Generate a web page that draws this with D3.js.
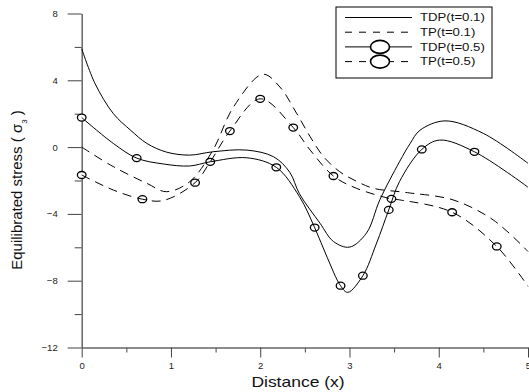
<!DOCTYPE html>
<html>
<head>
<meta charset="utf-8">
<script src="https://cdn.jsdelivr.net/npm/d3@7"></script>
<style>
  html, body { margin: 0; padding: 0; background: #fff; }
  svg { display: block; font-family: "Liberation Sans", Arial, sans-serif; }
</style>
</head>
<body>
<svg id="chart" width="529" height="392"></svg>
<script>
// values
var tdp1X = [0, 0.15, 0.354, 0.55, 0.73, 0.95, 1.21, 1.47, 1.85, 2.15, 2.33, 2.44, 2.67, 2.82, 3.0, 3.19, 3.34, 3.56, 3.68, 3.79, 4.07, 4.5, 5.0];
var tdp1Y = [5.89, 3.8, 2.01, 1.0, 0.22, -0.3, -0.48, -0.28, -0.18, -0.58, -1.5, -2.8, -4.56, -5.65, -5.99, -5.15, -3.16, -0.88, 0.22, 1.01, 1.57, 0.82, -0.97];

var tdp5X = [0, 0.354, 0.616, 0.914, 1.21, 1.44, 1.85, 2.18, 2.44, 2.61, 2.75, 2.9, 2.98, 3.15, 3.3, 3.44, 3.56, 3.81, 4.01, 4.4, 5.0];
var tdp5Y = [1.77, 0.22, -0.66, -1.01, -1.13, -0.88, -0.64, -1.21, -2.97, -4.82, -6.6, -8.3, -8.7, -7.7, -5.8, -3.76, -2.07, -0.14, 0.42, -0.28, -2.4];
var tdp5MarkX = [0, 0.616, 1.44, 2.18, 2.61, 2.9, 3.15, 3.44, 3.81, 4.4];
var tdp5MarkY = [1.77, -0.66, -0.88, -1.21, -4.82, -8.3, -7.7, -3.76, -0.14, -0.28];

var tp1X = [0, 0.354, 0.73, 0.95, 1.21, 1.47, 1.70, 2.03, 2.22, 2.41, 2.56, 2.71, 2.89, 3.08, 3.27, 3.56, 3.68, 4.16, 4.61, 5.0];
var tp1Y = [0, -1.17, -2.17, -2.67, -2.07, -0.18, 2.4, 4.36, 3.6, 2.0, 0.62, -0.58, -1.47, -2.05, -2.47, -2.67, -2.75, -3.16, -4.36, -6.25];

var tp5X = [0, 0.354, 0.68, 0.914, 1.27, 1.44, 1.66, 2.0, 2.37, 2.56, 2.82, 3.08, 3.47, 3.56, 4.15, 4.65, 5.0];
var tp5Y = [-1.67, -2.57, -3.12, -3.2, -2.13, -0.88, 0.96, 2.89, 1.17, -0.18, -1.73, -2.47, -3.1, -3.16, -3.9, -5.95, -8.34];
var tp5MarkX = [0, 0.68, 1.27, 1.66, 2.0, 2.37, 2.82, 3.47, 4.15, 4.65];
var tp5MarkY = [-1.67, -3.12, -2.13, 0.96, 2.89, 1.17, -1.73, -3.1, -3.9, -5.95];

var xTicks = [0, 1, 2, 3, 4, 5];
var xMinorTicks = [0.5, 1.5, 2.5, 3.5, 4.5];
var yTicks = [-12, -8, -4, 0, 4, 8];
var yMinorTicks = [-10, -6, -2, 2, 6];
var legendNames = ["TDP(t=0.1)", "TP(t=0.1)", "TDP(t=0.5)", "TP(t=0.5)"];

var svg = d3.select("#chart");
var x = d3.scaleLinear().domain([0, 5]).range([81.7, 528]);
var y = d3.scaleLinear().domain([-12, 8]).range([347.5, 13.5]);

function pts(xs, ys) {
  return xs.map(function(v, i) { return [v, ys[i]]; });
}

var line = d3.line()
  .x(function(d) { return x(d[0]); })
  .y(function(d) { return y(d[1]); })
  .curve(d3.curveCatmullRom.alpha(0.5));

// axes
function styleAxis(g) {
  g.select(".domain").attr("stroke", "#666").attr("stroke-width", 1.5);
  g.selectAll(".tick line").attr("stroke", "#444");
  g.selectAll(".tick text").attr("fill", "#222").style("font-size", "9.5px");
}

svg.append("g").attr("transform", "translate(81.7,0)")
  .call(d3.axisLeft(y).tickValues(yMinorTicks).tickSize(7).tickFormat(""))
  .call(function(g) { g.select(".domain").remove(); g.selectAll(".tick line").attr("stroke", "#444"); });
svg.append("g").attr("transform", "translate(0,347.5)")
  .call(d3.axisBottom(x).tickValues(xMinorTicks).tickSize(5).tickFormat(""))
  .call(function(g) { g.select(".domain").remove(); g.selectAll(".tick line").attr("stroke", "#444"); });

svg.append("g").attr("transform", "translate(81.7,0)")
  .call(d3.axisLeft(y).tickValues(yTicks).tickSize(14).tickPadding(10).tickSizeOuter(0).tickFormat(d3.format("d")))
  .call(styleAxis);
svg.append("g").attr("transform", "translate(0,347.5)")
  .call(d3.axisBottom(x).tickValues(xTicks).tickSize(10).tickPadding(5).tickSizeOuter(0).tickFormat(d3.format("d")))
  .call(styleAxis);

// markers sit under the curves, the curve runs through them
function markers(xs, ys) {
  svg.append("g").selectAll("ellipse").data(pts(xs, ys)).enter().append("ellipse")
    .attr("cx", function(d) { return x(d[0]); })
    .attr("cy", function(d) { return y(d[1]); })
    .attr("rx", 4.3).attr("ry", 3.5)
    .attr("fill", "#fff").attr("stroke", "#000").attr("stroke-width", 1.3);
}
markers(tdp5MarkX, tdp5MarkY);
markers(tp5MarkX, tp5MarkY);

var series = [
  { data: pts(tdp1X, tdp1Y), dash: null },
  { data: pts(tp1X, tp1Y), dash: "9,6" },
  { data: pts(tdp5X, tdp5Y), dash: null },
  { data: pts(tp5X, tp5Y), dash: "9,6" }
];
series.forEach(function(s) {
  svg.append("path").datum(s.data)
    .attr("d", line)
    .attr("fill", "none").attr("stroke", "#000").attr("stroke-width", 1)
    .attr("stroke-dasharray", s.dash);
});

// axis titles
svg.append("text").attr("transform", "translate(298,387) scale(1.25,1)")
  .attr("text-anchor", "middle").style("font-size", "14px").attr("fill", "#111")
  .text("Distance (x)");

var yt = svg.append("text").attr("transform", "translate(22,190) rotate(-90)")
  .attr("text-anchor", "middle").style("font-size", "15px").attr("fill", "#111");
yt.append("tspan").text("Equilibrated stress ( \u03c3");
yt.append("tspan").attr("baseline-shift", "sub").style("font-size", "8px").text("3");
yt.append("tspan").text(" )");

// legend
var lg = svg.append("g");
lg.append("rect").attr("x", 336).attr("y", 7).attr("width", 156).attr("height", 71)
  .attr("fill", "#fff").attr("stroke", "#000").attr("stroke-width", 1);
legendNames.forEach(function(name, i) {
  var ly = 17.5 + i * 14.7;
  lg.append("line").attr("x1", 345).attr("x2", 412).attr("y1", ly).attr("y2", ly)
    .attr("stroke", "#000").attr("stroke-width", 1)
    .attr("stroke-dasharray", series[i].dash ? "7,7" : null);
  if (i >= 2) {
    lg.append("ellipse").attr("cx", 380).attr("cy", ly).attr("rx", 9.5).attr("ry", 6.5)
      .attr("fill", "#fff").attr("stroke", "#000").attr("stroke-width", 1.6);
  }
  lg.append("text").attr("transform", "translate(420," + ly + ") scale(1.2,1)").attr("dy", "0.35em")
    .style("font-size", "11px").attr("fill", "#111").text(name);
});
</script>
</body>
</html>
